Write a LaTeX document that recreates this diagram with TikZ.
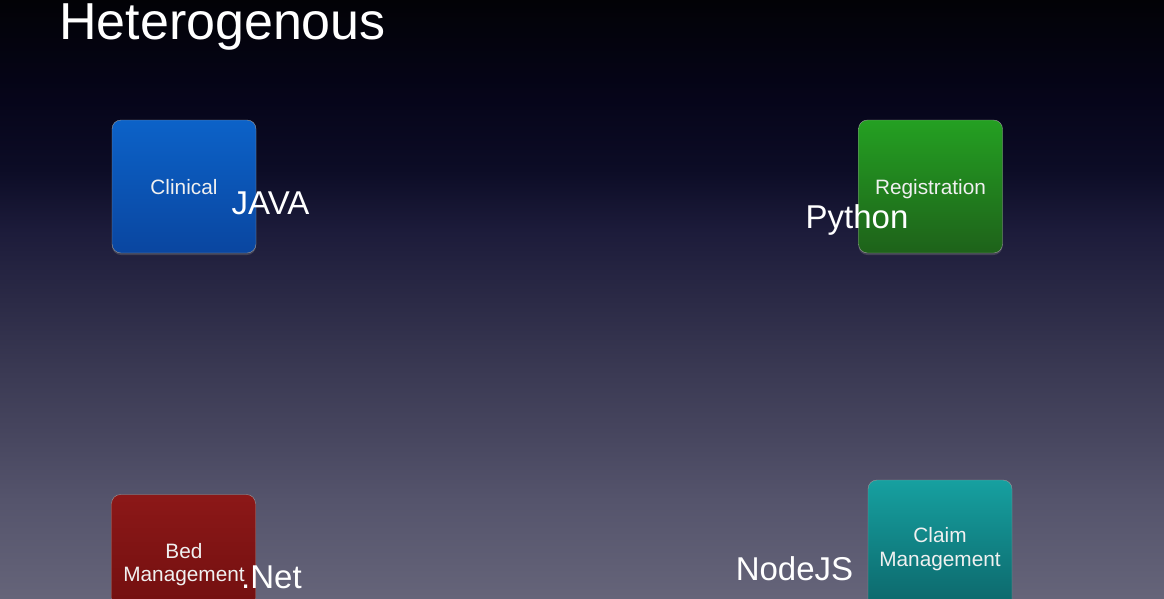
\documentclass[tikz,border=0pt]{standalone}
\usepackage{fontspec}
\setmainfont{Liberation Sans}
\usetikzlibrary{shadows}
% backdrop colours, top to bottom
\definecolor{bgA}{RGB}{2,2,6}
\definecolor{bgB}{RGB}{6,5,26}
\definecolor{bgC}{RGB}{12,12,38}
\definecolor{bgD}{RGB}{28,27,58}
\definecolor{bgE}{RGB}{43,42,70}
\definecolor{bgF}{RGB}{58,57,83}
\definecolor{bgG}{RGB}{70,69,94}
\definecolor{bgH}{RGB}{85,84,108}
\definecolor{bgI}{RGB}{101,100,121}
\pgfdeclareverticalshading{backdrop}{100bp}{%
  color(0bp)=(bgI); color(25bp)=(bgI); color(33.2bp)=(bgH); color(39bp)=(bgG);
  color(44.1bp)=(bgF); color(49.9bp)=(bgE); color(55.8bp)=(bgD); color(60.8bp)=(bgC);
  color(66.6bp)=(bgB); color(75bp)=(bgA); color(100bp)=(bgA)}
\definecolor{clinTop}{RGB}{12,98,200}
\definecolor{clinBot}{RGB}{10,70,160}
\definecolor{regTop}{RGB}{36,160,34}
\definecolor{regBot}{RGB}{30,98,26}
\definecolor{bedTop}{RGB}{140,24,24}
\definecolor{bedBot}{RGB}{110,14,14}
\definecolor{claimTop}{RGB}{22,160,160}
\definecolor{claimBot}{RGB}{12,100,104}
\definecolor{txt}{RGB}{240,240,240}
\tikzset{
  svc/.style={rounded corners=9pt, minimum width=144pt, minimum height=133pt,
    inner sep=0pt, draw=black!40, line width=0.4pt,
    drop shadow={opacity=0.35, shadow xshift=0pt, shadow yshift=-2pt}},
  svclabel/.style={text=txt, font=\fontsize{20.8}{25}\selectfont, anchor=base, inner sep=0pt},
  techlabel/.style={text=white, font=\fontsize{33}{38}\selectfont, anchor=base, inner sep=0pt},
  titlelabel/.style={text=white, font=\fontsize{52}{60}\selectfont, anchor=base west, inner sep=0pt}
}
\begin{document}
\begin{tikzpicture}[x=1pt,y=-1pt]
  % backdrop: black at the top fading to a grey violet
  \useasboundingbox (0,0) rectangle (1164,598);
  \shade[shading=backdrop] (0,0) rectangle (1164,598);

  % heading
  \node[titlelabel] (title) at (59,39) {Heterogenous};

  % service boxes
  \node[svc, top color=clinTop, bottom color=clinBot] (clinical) at (184,186.5) {};
  \node[svc, top color=regTop, bottom color=regBot] (registration) at (930.5,186.5) {};
  \node[svc, top color=bedTop, bottom color=bedBot] (bed) at (183.5,561) {};
  \node[svc, top color=claimTop, bottom color=claimBot] (claim) at (940,546.5) {};

  % service names
  \node[svclabel] (clinicalText) at (184,194) {Clinical};
  \node[svclabel] (registrationText) at (930.5,194) {Registration};
  \node[svclabel] (bedText1) at (184,558) {Bed};
  \node[svclabel] (bedText2) at (184,581) {Management};
  \node[svclabel] (claimText1) at (940,542) {Claim};
  \node[svclabel] (claimText2) at (940,566) {Management};

  % implementation languages
  \node[techlabel] (java) at (270.5,214) {JAVA};
  \node[techlabel] (python) at (857,228) {Python};
  \node[techlabel] (dotnet) at (271.5,588) {.Net};
  \node[techlabel] (nodejs) at (794.5,580) {NodeJS};
\end{tikzpicture}
\end{document}
